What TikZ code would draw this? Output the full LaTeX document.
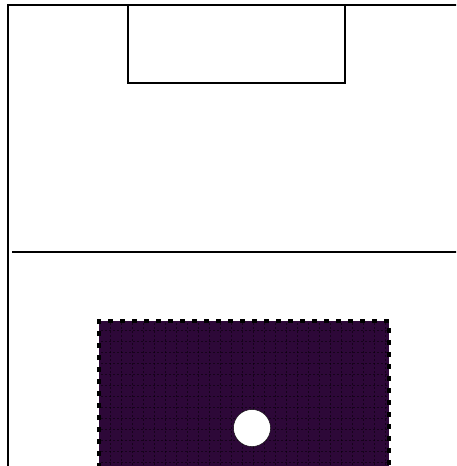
\documentclass[tikz,border=0pt]{standalone}
\usepackage{tikz}

\definecolor{zonefill}{RGB}{45,8,56}

\begin{document}
\begin{tikzpicture}[x=1pt,y=-1pt,
    pitchline/.style={draw=black,line width=1.4pt},
    zoneedge/.style={draw=black,line width=4pt,dash pattern=on 5pt off 7pt},
    zonegrid/.style={draw=black,line width=0.6pt,dash pattern=on 2pt off 2pt,opacity=0.5}]
  		\useasboundingbox (0,0) rectangle (456,466);
  		\clip (0,0) rectangle (456,466);
  		% pitch
  		\draw[pitchline] (8,480) -- (8,5) -- (460,5);
  		\draw[pitchline] (12,252) -- (460,252);
  		\draw[pitchline] (128,5) rectangle (345,83);
  		% zone
  		\fill[zonefill] (99,321) rectangle (389,480);
  		\foreach \gx in {110,121,...,385} {
    			\draw[zonegrid] (\gx,323) -- (\gx,470);
  		}
  		\foreach \gy in {330,341,...,466} {
    			\draw[zonegrid] (101,\gy) -- (387,\gy);
  		}
  		\draw[zoneedge] (99,480) -- (99,321) -- (389,321) -- (389,480);
  		\node[circle,draw=black,fill=white,inner sep=0pt,minimum size=37pt] (ball) at (252,428) {};
\end{tikzpicture}
\end{document}
